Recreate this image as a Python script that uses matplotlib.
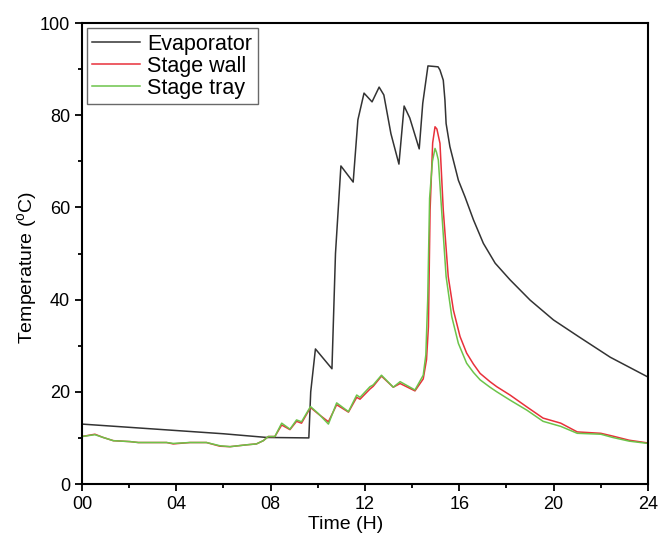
import numpy as np
import matplotlib.pyplot as plt

plt.rcParams['font.family'] = ['Liberation Sans', 'DejaVu Sans']
plt.rcParams['mathtext.fontset'] = 'custom'
plt.rcParams['mathtext.rm'] = 'Liberation Sans'

# evaporator temperature
t_evap = [0, 2, 4, 6, 7.83, 9.62, 9.7, 9.9, 10.6, 10.75, 10.98, 11.5, 11.7, 11.96,
          12.3, 12.6, 12.8, 13.1, 13.44, 13.66, 13.9, 14.3, 14.45, 14.67, 14.9,
          15.1, 15.18, 15.32, 15.39, 15.44, 15.6, 15.96, 16.24, 16.6, 17.02, 17.52,
          18.15, 19.0, 19.99, 21.05, 22.4, 24]
y_evap = [13.0, 12.3, 11.6, 10.9, 10.1, 10.0, 20.0, 29.3, 25.0, 50.0, 69.0, 65.5,
          79.0, 84.8, 82.9, 86.1, 84.4, 76.0, 69.4, 82.0, 79.4, 72.7, 82.6, 90.7,
          90.6, 90.5, 89.8, 87.6, 83.3, 78.2, 73.2, 65.9, 62.3, 57.3, 52.2, 47.9,
          44.3, 39.9, 35.6, 32.0, 27.5, 23.2]

# stage wall
t_wall = [0, 0.55, 0.9, 1.33, 2.04, 2.39, 3.59, 3.87, 4.58, 5.28, 5.85, 6.28, 6.98,
          7.4, 7.69, 7.9, 8.18, 8.47, 8.82, 9.1, 9.31, 9.69, 10.02, 10.45, 10.8,
          11.3, 11.65, 11.79, 12.21, 12.35, 12.7, 13.2, 13.49, 14.12, 14.47, 14.61,
          14.69, 14.76, 14.87, 14.97, 15.05, 15.18, 15.32, 15.53, 15.75, 16.03, 16.31,
          16.6, 16.88, 17.3, 17.59, 18.15, 18.87, 19.55, 20.3, 21.0, 22.0, 22.5, 23.2, 24]
y_wall = [10.3, 10.8, 10.1, 9.4, 9.2, 9.0, 9.0, 8.7, 9.0, 9.0, 8.2, 8.1, 8.5,
          8.7, 9.4, 10.3, 10.3, 12.8, 11.8, 13.6, 13.2, 16.6, 15.2, 13.5, 17.2,
          15.6, 18.8, 18.4, 20.6, 21.2, 23.4, 21.0, 21.8, 20.2, 22.8, 27.0,
          34.1, 59.4, 74.0, 77.5, 77.0, 73.9, 59.4, 45.0, 37.7, 32.0, 28.4,
          26.0, 24.0, 22.2, 21.1, 19.3, 16.7, 14.3, 13.2, 11.3, 11.0, 10.4, 9.5, 8.9]

# stage tray
t_tray = [0, 0.55, 0.9, 1.33, 2.04, 2.39, 3.59, 3.87, 4.58, 5.28, 5.85, 6.28, 6.98,
          7.4, 7.69, 7.9, 8.18, 8.47, 8.82, 9.1, 9.31, 9.69, 10.02, 10.45, 10.8,
          11.3, 11.65, 11.79, 12.21, 12.35, 12.7, 13.2, 13.49, 14.12, 14.47, 14.58,
          14.66, 14.74, 14.86, 14.97, 15.03, 15.11, 15.25, 15.44, 15.68, 15.96, 16.31,
          16.6, 16.88, 17.3, 17.59, 18.15, 18.87, 19.55, 20.3, 21.0, 22.0, 22.5, 23.2, 24]
y_tray = [10.3, 10.7, 10.1, 9.4, 9.2, 9.0, 9.0, 8.8, 9.0, 9.0, 8.3, 8.1, 8.5,
          8.7, 9.4, 10.3, 10.3, 13.2, 11.9, 13.9, 13.5, 16.8, 15.3, 13.0, 17.6,
          15.7, 19.3, 18.8, 21.1, 21.5, 23.6, 21.0, 22.2, 20.4, 23.6, 28.0,
          40.0, 62.0, 70.0, 72.8, 72.0, 70.3, 59.4, 45.0, 36.3, 30.5, 26.2,
          24.2, 22.6, 21.0, 20.0, 18.2, 16.0, 13.6, 12.5, 11.0, 10.8, 10.1, 9.3, 8.8]

fig = plt.figure(figsize=(6.66, 5.36), dpi=100)
ax = fig.add_axes([0.123, 0.097, 0.850, 0.860])

ax.plot(t_evap, y_evap, color='#333333', lw=1.1, label='Evaporator')
ax.plot(t_wall, y_wall, color='#e8303a', lw=1.1, label='Stage wall')
ax.plot(t_tray, y_tray, color='#6cc44a', lw=1.1, label='Stage tray')

ax.set_xlim(0, 24)
ax.set_ylim(0, 100)
ax.set_xticks(np.arange(0, 25, 4))
ax.set_xticklabels(['%02d' % h for h in range(0, 25, 4)])
ax.set_xticks(np.arange(2, 24, 4), minor=True)
ax.set_yticks(np.arange(0, 101, 20))
ax.set_yticks(np.arange(10, 100, 20), minor=True)
ax.tick_params(which='major', direction='out', length=5, width=1.3, labelsize=13)
ax.tick_params(which='minor', direction='out', length=3, width=1.3)
for s in ax.spines.values():
    s.set_linewidth(1.5)

ax.set_xlabel('Time (H)', fontsize=14)
ax.xaxis.set_label_coords(0.465, -0.07)
ax.set_ylabel(r'Temperature ($\mathregular{^{o}}$C)', fontsize=14)
ax.yaxis.set_label_coords(-0.075, 0.47)

leg = ax.legend(loc='upper left', bbox_to_anchor=(0.009, 0.989), fontsize=15.5,
                frameon=True, fancybox=False, handlelength=2.2, handletextpad=0.35,
                labelspacing=0.05, borderpad=0.25, borderaxespad=0)
leg.get_frame().set_edgecolor('#444444')
leg.get_frame().set_linewidth(1.0)

plt.savefig('out.png')
